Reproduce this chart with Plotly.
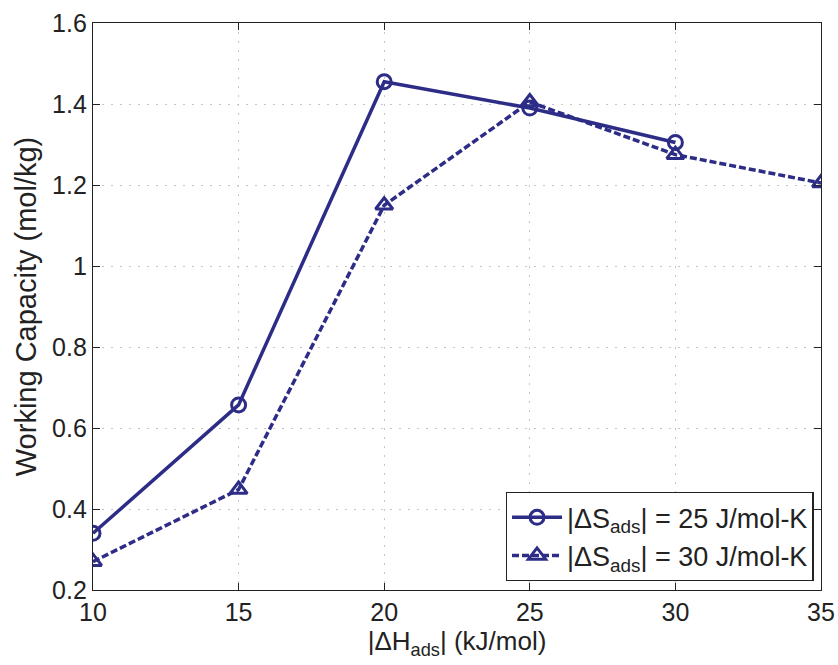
import plotly.graph_objects as go

# Adsorption enthalpy magnitude (kJ/mol)
dh_25 = [10, 15, 20, 25, 30]
dh_30 = [10, 15, 20, 25, 30, 35]
# Working capacity (mol/kg) for two entropy values
wc_25 = [0.34, 0.657, 1.455, 1.39, 1.305]
wc_30 = [0.27, 0.448, 1.15, 1.405, 1.275, 1.205]

x_ticks = [10, 15, 20, 25, 30, 35]
y_ticks = [0.2, 0.4, 0.6, 0.8, 1.0, 1.2, 1.4, 1.6]
y_labels = ["0.2", "0.4", "0.6", "0.8", "1", "1.2", "1.4", "1.6"]

navy = "#2d2d88"
ink = "#222222"
font = "Liberation Sans, Arial, sans-serif"

fig = go.Figure()
fig.add_trace(go.Scatter(
    x=dh_25, y=wc_25, mode="lines+markers",
    name="|ΔS<sub>ads</sub>| = 25 J/mol-K",
    line=dict(color=navy, width=3.5),
    marker=dict(symbol="circle-open", size=14, color=navy, line=dict(width=3, color=navy)),
))
fig.add_trace(go.Scatter(
    x=dh_30, y=wc_30, mode="lines+markers",
    name="|ΔS<sub>ads</sub>| = 30 J/mol-K",
    line=dict(color=navy, width=3.5, dash="7px,3px"),
    marker=dict(symbol="triangle-up-open", size=15, color=navy, line=dict(width=3, color=navy)),
))

axis_common = dict(
    showline=True, linecolor=ink, linewidth=1.3, mirror="ticks",
    ticks="inside", ticklen=7, tickcolor=ink,
    showgrid=True, gridcolor="#c6c6c6", griddash="2px,7px", gridwidth=1,
    zeroline=False, automargin=False,
    tickfont=dict(family=font, size=25, color=ink),
)

fig.update_layout(
    width=838, height=665,
    margin=dict(l=93, r=17, t=23, b=75),
    paper_bgcolor="white", plot_bgcolor="white",
    font=dict(family=font, color=ink),
    xaxis=dict(
        range=[10, 35], tickvals=x_ticks,
        title=dict(text="|ΔH<sub>ads</sub>| (kJ/mol)", font=dict(family=font, size=26), standoff=4),
        **axis_common,
    ),
    yaxis=dict(
        range=[0.2, 1.6], tickvals=y_ticks, ticktext=y_labels,
        title=dict(text="Working Capacity (mol/kg)", font=dict(family=font, size=29), standoff=6),
        **axis_common,
    ),
    legend=dict(
        x=0.99, y=0.016, xanchor="right", yanchor="bottom",
        bgcolor="white", bordercolor=ink, borderwidth=1.3,
        font=dict(family=font, size=27, color=ink),
        itemwidth=50, tracegroupgap=0,
    ),
    showlegend=True,
)

fig.write_html("out.html")
